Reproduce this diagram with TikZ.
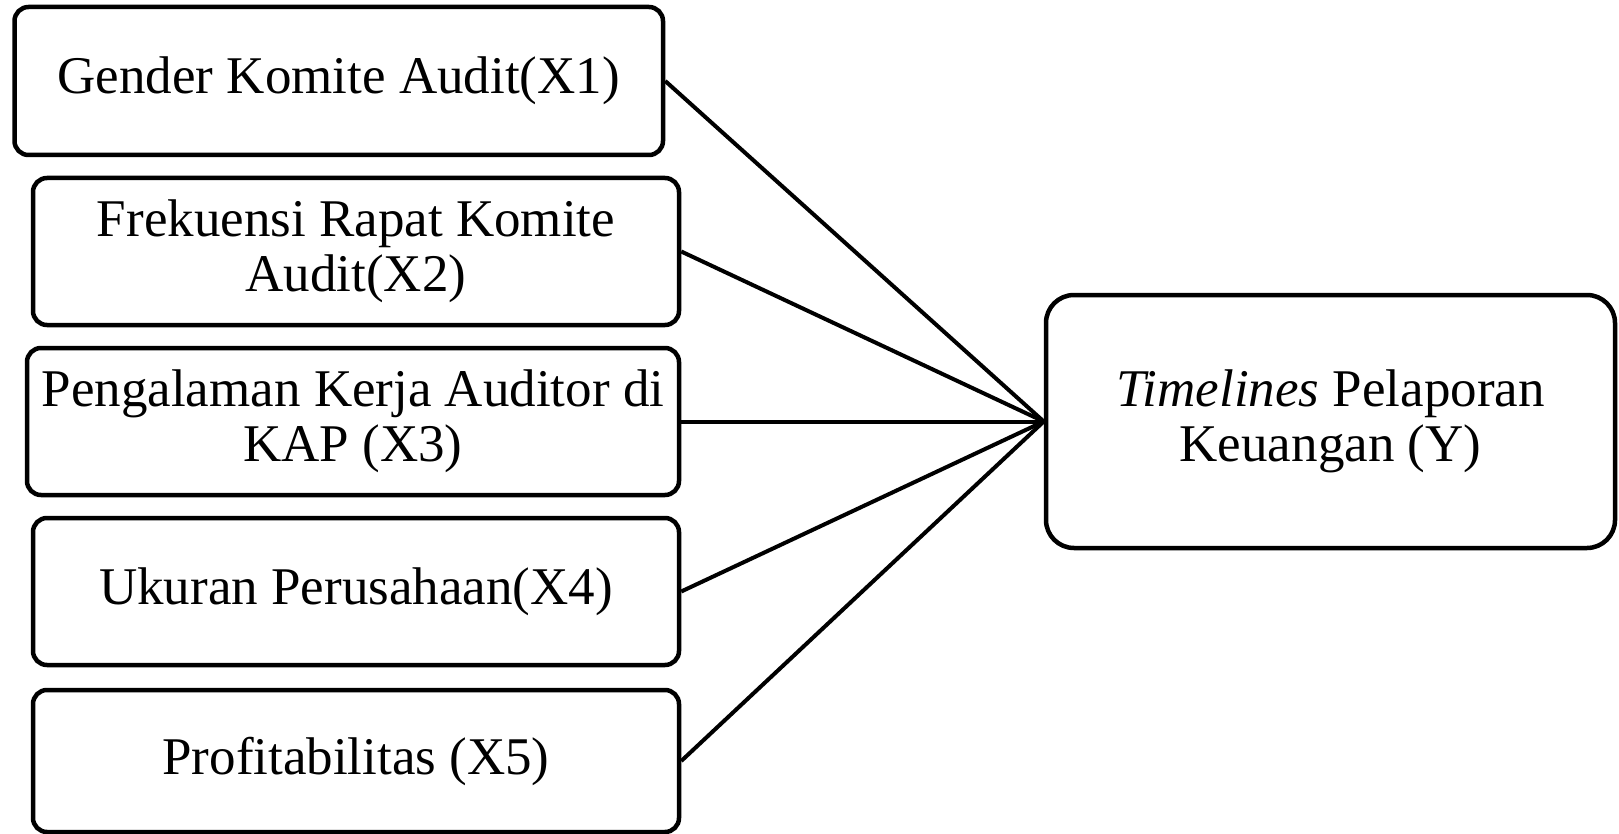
\documentclass[tikz,border=0pt]{standalone}
\usepackage{fontspec}
\setmainfont{Liberation Serif}
\begin{document}
\begin{tikzpicture}[x=1pt,y=-1pt,
  varbox/.style={draw=black, line width=4.5pt, rounded corners=14pt, align=center,
    inner sep=0pt, font=\fontsize{53}{55}\selectfont},
  ybox/.style={varbox, rounded corners=28pt},
  link/.style={draw=black, line width=4pt}]
\useasboundingbox (0,0) rectangle (1619,834);
\node[varbox, minimum width=648.5pt, minimum height=148pt] (b1) at (338.75,81) {Gender Komite Audit(X1)};
\node[varbox, minimum width=646pt, minimum height=147pt] (b2) at (356,251.5) {Frekuensi Rapat Komite\\Audit(X2)};
\node[varbox, minimum width=652pt, minimum height=147pt] (b3) at (353,421.5) {Pengalaman Kerja Auditor di\\KAP (X3)};
\node[varbox, minimum width=646pt, minimum height=147pt] (b4) at (356,591.5) {Ukuran Perusahaan(X4)};
\node[varbox, minimum width=646pt, minimum height=142pt] (b5) at (356,761) {Profitabilitas (X5)};
\node[ybox, minimum width=569pt, minimum height=253pt] (y) at (1330.5,421.5) {\textit{Timelines} Pelaporan\\Keuangan (Y)};
\foreach \b in {b1,b2,b3,b4,b5}
  \draw[link] (\b.east) -- (y.west);
\end{tikzpicture}
\end{document}
